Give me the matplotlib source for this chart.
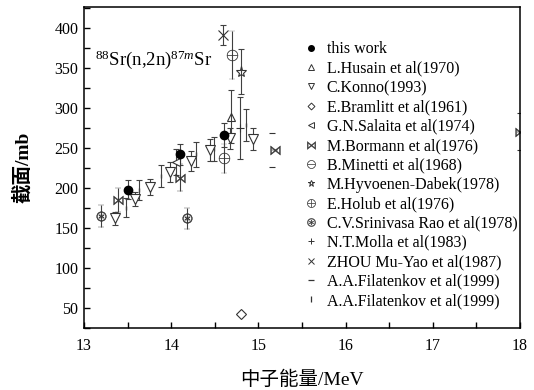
import matplotlib
matplotlib.use("Agg")
import matplotlib.pyplot as plt
from matplotlib.lines import Line2D
from matplotlib.ticker import MultipleLocator

plt.rcParams['font.family'] = ['Liberation Serif', 'Noto Sans CJK SC']
plt.rcParams['mathtext.fontset'] = 'custom'
plt.rcParams['mathtext.rm'] = 'Liberation Serif'
plt.rcParams['mathtext.it'] = 'Liberation Serif:italic'

# ---- measured cross sections: energy (MeV), sigma (mb), uncertainty (mb) ----
this_work_e = [13.50, 14.10, 14.60]
this_work_y = [198, 242, 266]
this_work_err = [12, 13, 15]

husain_e = [14.69]
husain_y = [289]
husain_err = [33]

konno_e = [13.36, 13.58, 13.76, 13.99, 14.23, 14.44, 14.68, 14.94]
konno_y = [162, 186, 201, 220, 234, 247, 262, 261]
konno_err = [8.5, 9, 10, 12, 12.5, 14, 13, 14]

bramlitt_e = [14.80]
bramlitt_y = [43]

salaita_e = [14.06]
salaita_y = [232]
salaita_err = [16]

bormann_e = [13.39, 14.10, 15.19, 18.0]
bormann_y = [185, 213, 247, 270]
bormann_err = [15, 17, 0, 0]

minetti_e = [14.70]
minetti_y = [366]
minetti_err = [30]

hyvoenen_e = [14.80]
hyvoenen_y = [345]
hyvoenen_err = [28]

holub_e = [14.60]
holub_y = [237]
holub_err = [18]

rao_e = [13.19, 14.18]
rao_y = [165, 162]
rao_err = [13.5, 13]

molla_e = [14.79]
molla_y = [275]
molla_err = [39]

zhou_e = [14.59]
zhou_y = [391]
zhou_err = [12]

filat_dash_e = [15.16, 15.16, 18.0, 18.0]
filat_dash_y = [268, 226, 294, 247]

filat_bar_e = [13.48, 13.63, 13.88, 14.29, 14.49, 14.86]
filat_bar_y = [175.5, 197.5, 215, 242, 248, 278]
filat_bar_err = [11.5, 12.5, 13.5, 15.5, 15, 20]

legend_labels = [
    "this work", "L.Husain et al(1970)", "C.Konno(1993)", "E.Bramlitt et al(1961)",
    "G.N.Salaita et al(1974)", "M.Bormann et al(1976)", "B.Minetti et al(1968)",
    "M.Hyvoenen-Dabek(1978)", "E.Holub et al(1976)", "C.V.Srinivasa Rao et al(1978)",
    "N.T.Molla et al(1983)", "ZHOU Mu-Yao et al(1987)", "A.A.Filatenkov et al(1999)",
    "A.A.Filatenkov et al(1999)",
]

EC = '#404040'
MC = '#333333'

fig = plt.figure(figsize=(5.34, 3.90), dpi=100)
ax = fig.add_axes([84 / 534, 62 / 390, 436 / 534, 321 / 390])

eb = dict(ls='none', ecolor=EC, elinewidth=0.8, capsize=2.5, capthick=0.8)

# error-barred series
ax.errorbar(filat_bar_e, filat_bar_y, yerr=filat_bar_err, marker='|', ms=3, mec=EC, **eb)
ax.errorbar(konno_e, konno_y, yerr=konno_err, marker='v', ms=7.5, mfc='white', mec=MC, mew=0.8, **eb)
ax.errorbar(rao_e, rao_y, yerr=rao_err, marker=r'$\circledast$', ms=7, mfc=MC, mec=MC, mew=0.3, **eb)
ax.errorbar(bormann_e, bormann_y, yerr=bormann_err, marker=r'$\bowtie$', ms=7, mfc=MC, mec=MC, mew=0.3, **eb)
ax.errorbar(salaita_e, salaita_y, yerr=salaita_err, marker='<', ms=5.5, mfc='white', mec=MC, mew=0.8, **eb)
ax.errorbar(husain_e, husain_y, yerr=husain_err, marker='^', ms=6, mfc='none', mec=MC, mew=0.8, **eb)
ax.errorbar(hyvoenen_e, hyvoenen_y, yerr=hyvoenen_err, marker='*', ms=8, mfc='none', mec=MC, mew=0.8, **eb)
ax.errorbar(minetti_e, minetti_y, yerr=minetti_err, marker=r'$\ominus$', ms=8, mfc=MC, mec=MC, mew=0.2, **eb)
ax.errorbar(holub_e, holub_y, yerr=holub_err, marker=r'$\oplus$', ms=8, mfc=MC, mec=MC, mew=0.2, **eb)
ax.errorbar(molla_e, molla_y, yerr=molla_err, marker='+', ms=6, mec=MC, mew=0.8, **eb)
ax.errorbar(zhou_e, zhou_y, yerr=zhou_err, marker='x', ms=7, mec=MC, mew=0.8, **eb)
ax.errorbar(this_work_e, this_work_y, yerr=this_work_err, marker='o', ms=6, mfc='black', mec='black', **eb)

# plain markers
ax.plot(bramlitt_e, bramlitt_y, ls='none', marker='D', ms=5, mfc='white', mec=MC, mew=0.8)
ax.plot(filat_dash_e, filat_dash_y, ls='none', marker='_', ms=5, mec=MC, mew=0.8)

# legend
handles = [
    Line2D([], [], ls='none', marker='o', ms=4, mfc='black', mec='black'),
    Line2D([], [], ls='none', marker='^', ms=4, mfc='none', mec=MC, mew=0.7),
    Line2D([], [], ls='none', marker='v', ms=4, mfc='none', mec=MC, mew=0.7),
    Line2D([], [], ls='none', marker='D', ms=3.5, mfc='none', mec=MC, mew=0.7),
    Line2D([], [], ls='none', marker='<', ms=4, mfc='none', mec=MC, mew=0.7),
    Line2D([], [], ls='none', marker=r'$\bowtie$', ms=6, mfc=MC, mec=MC, mew=0.3),
    Line2D([], [], ls='none', marker=r'$\ominus$', ms=6, mfc=MC, mec=MC, mew=0.2),
    Line2D([], [], ls='none', marker='*', ms=5, mfc='none', mec=MC, mew=0.7),
    Line2D([], [], ls='none', marker=r'$\oplus$', ms=6, mfc=MC, mec=MC, mew=0.2),
    Line2D([], [], ls='none', marker=r'$\circledast$', ms=6, mfc=MC, mec=MC, mew=0.2),
    Line2D([], [], ls='none', marker='+', ms=4.5, mec=MC, mew=0.7),
    Line2D([], [], ls='none', marker='x', ms=4, mec=MC, mew=0.7),
    Line2D([], [], ls='none', marker='_', ms=5, mec=MC, mew=0.9),
    Line2D([], [], ls='none', marker='|', ms=4, mec=MC, mew=0.9),
]
ax.legend(handles, legend_labels, loc='upper left', bbox_to_anchor=(0.502, 0.893),
          frameon=False, fontsize=11.5, borderpad=0, borderaxespad=0,
          handlelength=1.0, handletextpad=0.5, labelspacing=0.21)

ax.text(0.025, 0.82, r'$^{88}$Sr(n,2n)$^{87\mathit{m}}$Sr', transform=ax.transAxes,
        fontsize=13.5, ha='left', va='baseline')

ax.set_xlim(13, 18)
ax.set_ylim(25, 426)
ax.xaxis.set_major_locator(MultipleLocator(1))
ax.xaxis.set_minor_locator(MultipleLocator(0.5))
ax.yaxis.set_major_locator(MultipleLocator(50))
ax.yaxis.set_minor_locator(MultipleLocator(25))
ax.set_yticks([50, 100, 150, 200, 250, 300, 350, 400])
ax.tick_params(which='both', direction='in', top=False, right=False, width=1.0, labelsize=11.5)
ax.tick_params(which='major', length=4.5)
ax.tick_params(which='minor', length=4.5)
ax.tick_params(axis='x', which='major', pad=7)
ax.tick_params(axis='y', which='major', pad=4)
for s in ax.spines.values():
    s.set_linewidth(1.1)

ax.set_xlabel('中子能量/MeV', fontsize=14, family=['Liberation Serif', 'Noto Sans CJK SC'], labelpad=12)
ax.set_ylabel('截面/mb', fontsize=14, family=['Liberation Serif', 'Noto Sans CJK SC'],
              fontweight='bold', labelpad=16)

fig.savefig('out.png', dpi=100)
